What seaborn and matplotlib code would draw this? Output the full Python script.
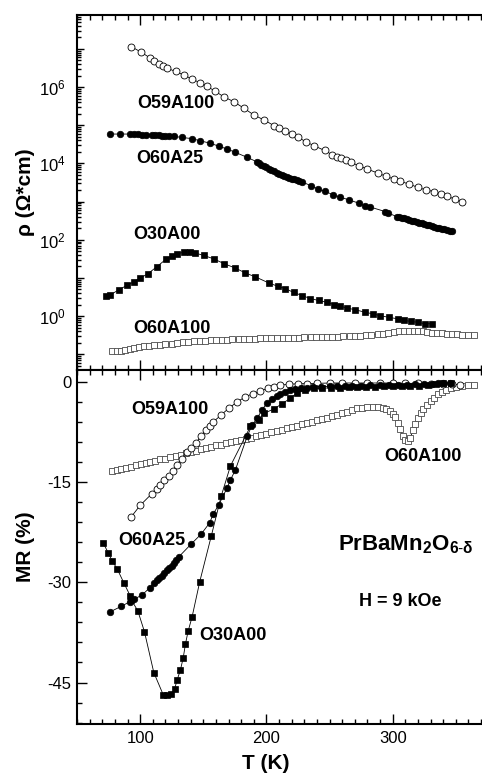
import numpy as np
import matplotlib
matplotlib.use("Agg")
import matplotlib.pyplot as plt
import matplotlib.ticker as mticker
import seaborn as sns

# ---- resistivity (top panel), values read as log10(rho) ----
t_o59_rho = [93, 101, 108, 111, 115, 118, 121, 128, 135, 141, 147, 153, 159, 166, 174,
             182, 190, 198, 206, 210, 215, 220, 225, 231, 238, 246, 252, 256, 259, 263,
             267, 273, 280, 288, 295, 301, 306, 313, 320, 326, 333, 338, 343, 349, 355]
lg_o59_rho = [7.06, 6.91, 6.76, 6.69, 6.60, 6.55, 6.50, 6.41, 6.31, 6.21, 6.12, 6.02, 5.90,
              5.75, 5.62, 5.45, 5.27, 5.14, 4.99, 4.92, 4.84, 4.76, 4.69, 4.57, 4.46, 4.34,
              4.23, 4.18, 4.14, 4.08, 4.03, 3.94, 3.85, 3.75, 3.66, 3.59, 3.53, 3.46, 3.37,
              3.31, 3.26, 3.20, 3.14, 3.07, 2.99]

t_o60a25_rho = [76.5, 84.4, 92.3, 95, 98, 101.6, 105, 109.5, 112, 115, 117.4, 120, 123, 126.6,
                133.2, 141.1, 147.7, 155.6, 162.3, 168.8, 175.4, 184.7, 192.6, 194, 196, 198,
                200, 202, 204, 206, 208, 210, 212, 214, 216, 218, 220, 222, 224, 226, 228,
                235, 241, 246, 253, 258, 265, 273, 278, 282, 294, 296.5, 303, 305, 307, 309,
                311, 313, 315, 317, 319, 321, 323, 325, 327, 329, 331, 333, 335, 337, 339,
                341, 343, 345, 347]
lg_o60a25_rho = [4.77, 4.77, 4.77, 4.76, 4.76, 4.75, 4.75, 4.75, 4.74, 4.74, 4.73, 4.73, 4.72,
                 4.71, 4.68, 4.65, 4.59, 4.53, 4.45, 4.38, 4.29, 4.16, 4.04, 4.01, 3.97, 3.93,
                 3.90, 3.86, 3.83, 3.80, 3.76, 3.73, 3.70, 3.68, 3.65, 3.63, 3.60, 3.58, 3.56,
                 3.54, 3.52, 3.42, 3.33, 3.27, 3.18, 3.12, 3.05, 2.96, 2.89, 2.86, 2.74, 2.70,
                 2.61, 2.59, 2.57, 2.56, 2.54, 2.52, 2.50, 2.48, 2.47, 2.45, 2.43, 2.41, 2.39,
                 2.38, 2.36, 2.34, 2.32, 2.30, 2.29, 2.27, 2.25, 2.23, 2.22]

t_o30_rho = [73.3, 76.5, 83.1, 89.7, 95, 100.2, 106.1, 113.4, 120.8, 125.3, 129.3, 134.6,
             139.8, 143.8, 150.4, 158.3, 166.7, 175.4, 183.3, 191.2, 201.8, 209.2, 215,
             221.6, 228.2, 234.8, 241.4, 248, 253.8, 258.6, 263.9, 270, 278.4, 284.4, 290.2,
             296.8, 303.9, 309.1, 314.4, 319.7, 325.7, 331]
lg_o30_rho = [0.54, 0.56, 0.69, 0.81, 0.90, 1.00, 1.11, 1.30, 1.50, 1.58, 1.64, 1.67, 1.68,
              1.65, 1.59, 1.50, 1.37, 1.26, 1.13, 1.03, 0.87, 0.78, 0.72, 0.62, 0.54, 0.46,
              0.41, 0.36, 0.30, 0.26, 0.21, 0.17, 0.10, 0.06, 0.01, -0.03, -0.07, -0.11,
              -0.14, -0.16, -0.20, -0.20]

t_o60a100_rho = [78, 82, 85, 88, 92, 95, 99, 103, 107, 111, 116, 120, 125, 129, 134, 138, 143,
                 147, 151, 156, 160, 165, 169, 173, 178, 182, 186, 191, 195, 200, 204, 208,
                 213, 217, 222, 226, 230, 235, 239, 244, 248, 252, 257, 261, 266, 270, 274,
                 279, 283, 288, 292, 296, 301, 305, 309, 313, 317, 320, 324, 327, 331, 335,
                 339, 343, 347, 351, 355, 360, 364]
lg_o60a100_rho = [-0.92, -0.91, -0.90, -0.88, -0.85, -0.83, -0.81, -0.79, -0.78, -0.76, -0.75,
                  -0.73, -0.72, -0.70, -0.69, -0.67, -0.66, -0.65, -0.64, -0.63, -0.63, -0.62,
                  -0.62, -0.61, -0.60, -0.60, -0.59, -0.59, -0.58, -0.58, -0.57, -0.57, -0.57,
                  -0.56, -0.56, -0.56, -0.55, -0.55, -0.55, -0.55, -0.55, -0.54, -0.54, -0.53,
                  -0.52, -0.52, -0.51, -0.50, -0.49, -0.47, -0.46, -0.44, -0.42, -0.40, -0.39,
                  -0.38, -0.38, -0.38, -0.40, -0.41, -0.43, -0.44, -0.45, -0.46, -0.47, -0.48,
                  -0.49, -0.50, -0.50]

# ---- magnetoresistance (bottom panel), % ----
t_o59_mr = [93, 100, 109, 113, 116, 119, 123, 126, 129, 133, 137, 140, 144, 148, 152, 155,
            158, 164, 170, 177, 183, 189, 195, 201, 206, 211, 218, 225, 232, 240, 250, 260,
            270, 280, 290, 300, 310, 320, 330, 340, 347, 353]
mr_o59 = [-20.2, -18.5, -16.8, -16.0, -15.4, -14.7, -14.1, -13.3, -12.4, -11.5, -10.5, -9.9,
          -9.2, -8.2, -7.2, -6.6, -6.0, -5.0, -4.0, -3.0, -2.3, -1.8, -1.4, -1.0, -0.8, -0.5,
          -0.4, -0.3, -0.3, -0.25, -0.2, -0.2, -0.2, -0.2, -0.2, -0.2, -0.25, -0.25, -0.3,
          -0.3, -0.35, -0.5]

t_o60a25_mr = [76.5, 85, 92, 95.5, 101.6, 107.7, 110.8, 113, 114.8, 117, 118.7, 121, 122.7,
               125, 126.6, 128.5, 130.6, 140.3, 148.3, 155.1, 157.8, 162.3, 168.8, 171.5,
               175.4, 184.7, 188.6, 192.6, 196.5, 200.5, 204.4, 208.4, 211, 215, 219, 223,
               227, 232, 237, 243, 250, 256, 262, 268, 275, 282, 290, 297, 304, 311, 318,
               325, 331, 336, 340, 345]
mr_o60a25 = [-34.4, -33.6, -32.9, -32.5, -31.9, -30.8, -30.1, -29.7, -29.4, -29.0, -28.6, -28.2,
             -27.9, -27.5, -27.1, -26.7, -26.2, -24.3, -22.8, -21.1, -19.8, -18.4, -15.9,
             -14.7, -13.2, -8.2, -6.5, -5.5, -4.2, -3.2, -2.6, -2.2, -1.8, -1.5, -1.3, -1.15,
             -1.0, -0.9, -0.8, -0.75, -0.7, -0.7, -0.65, -0.6, -0.6, -0.55, -0.5, -0.5, -0.45,
             -0.45, -0.4, -0.35, -0.3, -0.2, -0.15, -0.15]

t_o30_mr = [70.7, 74.7, 77.8, 81.8, 87.1, 92.3, 92.9, 98.2, 103.4, 110.8, 118.2, 121.4, 124.5,
            127.2, 129.3, 131.9, 134.1, 135.9, 138, 141.1, 147.2, 156.3, 164.2, 171.5, 187.3,
            193.9, 198.4, 205.8, 212.3, 218.9, 224.2, 230.7, 237.3, 244, 251, 258, 265, 272,
            279, 286, 293, 300, 307, 314, 321, 328, 334, 340, 346]
mr_o30 = [-24.1, -25.6, -26.8, -28.0, -30.1, -32.1, -32.6, -34.3, -37.4, -43.5, -46.8, -46.9,
          -46.7, -46.0, -44.6, -43.1, -41.3, -39.2, -37.3, -35.2, -29.9, -23.1, -17.1, -12.6,
          -6.7, -5.7, -4.7, -4.1, -3.3, -2.5, -1.7, -1.2, -1.0, -1.0, -0.9, -0.9, -0.85, -0.8,
          -0.8, -0.75, -0.7, -0.7, -0.7, -0.65, -0.6, -0.5, -0.4, -0.25, -0.2]

t_o60a100_mr = [78, 82, 85, 89, 93, 97, 101, 105, 108, 112, 116, 120, 124, 128, 132, 136, 140,
                144, 148, 152, 156, 160, 164, 168, 172, 176, 180, 184, 188, 192, 196, 200,
                204, 208, 212, 216, 220, 224, 228, 232, 236, 240, 244, 248, 252, 256, 260,
                264, 268, 272, 276, 280, 284, 288, 292, 295, 298, 300, 302, 304, 306, 308,
                310, 312, 314, 316, 318, 320, 322, 324, 327, 330, 333, 336, 339, 342, 346,
                350, 355, 360, 364]
mr_o60a100 = [-13.3, -13.2, -13.0, -12.9, -12.7, -12.5, -12.3, -12.2, -12.0, -11.8, -11.6,
              -11.5, -11.3, -11.1, -10.9, -10.7, -10.5, -10.3, -10.1, -9.9, -9.7, -9.5, -9.4,
              -9.2, -9.0, -8.8, -8.7, -8.5, -8.4, -8.2, -8.0, -7.8, -7.6, -7.4, -7.2, -7.0,
              -6.8, -6.6, -6.4, -6.2, -6.0, -5.8, -5.6, -5.4, -5.2, -5.0, -4.7, -4.5, -4.2,
              -4.0, -3.9, -3.8, -3.8, -3.8, -3.9, -4.1, -4.4, -4.8, -5.3, -6.2, -7.1, -8.2,
              -8.7, -8.8, -8.4, -7.2, -6.3, -5.4, -4.7, -4.1, -3.5, -2.9, -2.4, -1.9, -1.5,
              -1.3, -1.0, -0.8, -0.6, -0.5, -0.5]

sns.set_theme(style="ticks")
plt.rcParams["font.family"] = ["Liberation Sans", "DejaVu Sans"]
plt.rcParams["text.color"] = "black"
plt.rcParams["axes.labelcolor"] = "black"
plt.rcParams["mathtext.fontset"] = "custom"
plt.rcParams["mathtext.rm"] = "Liberation Sans"
plt.rcParams["mathtext.it"] = "Liberation Sans:italic"
plt.rcParams["mathtext.bf"] = "Liberation Sans:bold"
plt.rcParams["mathtext.sf"] = "Liberation Sans"

fig = plt.figure(figsize=(4.82, 7.74), dpi=100)
ax1 = fig.add_axes([0.1598, 0.5220, 0.8402, 0.4587])
ax2 = fig.add_axes([0.1598, 0.0646, 0.8402, 0.4574])

open_c = dict(marker="o", markersize=5, markerfacecolor="white", markeredgecolor="black",
              markeredgewidth=0.6)
fill_c = dict(marker="o", markersize=4.7, markerfacecolor="black", markeredgecolor="black",
              markeredgewidth=0.5)
fill_s = dict(marker="s", markersize=4.5, markerfacecolor="black", markeredgecolor="black",
              markeredgewidth=0.5)
open_s = dict(marker="s", markersize=4.6, markerfacecolor="white", markeredgecolor="#4a4a4a",
              markeredgewidth=0.6)

series_top = [
    (t_o59_rho, lg_o59_rho, open_c),
    (t_o60a25_rho, lg_o60a25_rho, fill_c),
    (t_o30_rho, lg_o30_rho, fill_s),
    (t_o60a100_rho, lg_o60a100_rho, open_s),
]
for t, lg, st in series_top:
    sns.lineplot(x=t, y=10 ** np.array(lg), ax=ax1, color="black", linewidth=0.6,
                 estimator=None, sort=False, **st)

series_bot = [
    (t_o60a100_mr, mr_o60a100, open_s),
    (t_o59_mr, mr_o59, open_c),
    (t_o30_mr, mr_o30, fill_s),
    (t_o60a25_mr, mr_o60a25, fill_c),
]
for t, mr, st in series_bot:
    sns.lineplot(x=t, y=mr, ax=ax2, color="black", linewidth=0.6,
                 estimator=None, sort=False, **st)

# axes setup
ax1.set_yscale("log")
ax1.set_ylim(10 ** -1.41, 10 ** 7.89)
ax2.set_ylim(-51.2, 1.75)
for ax in (ax1, ax2):
    ax.set_xlim(50, 370.7)
    ax.xaxis.set_major_locator(mticker.MultipleLocator(100))
    ax.xaxis.set_minor_locator(mticker.MultipleLocator(10))
    ax.tick_params(which="both", direction="in", top=True, right=False, width=1,
                   colors="black", labelsize=12)
    ax.tick_params(which="major", length=7)
    ax.tick_params(which="minor", length=3.5)
    ax.spines["right"].set_visible(False)
    for s in ("left", "top", "bottom"):
        ax.spines[s].set_linewidth(1.5)
        ax.spines[s].set_color("black")

ax1.yaxis.set_major_locator(mticker.LogLocator(base=10, numticks=20))
ax1.yaxis.set_minor_locator(mticker.LogLocator(base=10, subs=np.arange(2, 10), numticks=20))
ax1.yaxis.set_minor_formatter(mticker.NullFormatter())
ax1.yaxis.set_major_formatter(mticker.FuncFormatter(
    lambda v, p: r"$10^{%d}$" % round(np.log10(v)) if round(np.log10(v)) % 2 == 0 else ""))
ax1.tick_params(axis="y", which="major", length=5, pad=8)
ax1.tick_params(axis="y", which="minor", length=3)
ax1.tick_params(axis="x", labelbottom=False)

ax2.yaxis.set_major_locator(mticker.MultipleLocator(15))
ax2.yaxis.set_minor_locator(mticker.MultipleLocator(3))
ax2.yaxis.set_major_formatter(mticker.FuncFormatter(lambda v, p: "%d" % v))
ax2.tick_params(axis="y", pad=4)
ax2.tick_params(axis="x", pad=5)

ax1.set_xlabel("")
ax1.set_ylabel("ρ (Ω*cm)", fontsize=15, fontweight="bold")
ax2.set_ylabel("MR (%)", fontsize=15, fontweight="bold")
ax2.set_xlabel("T (K)", fontsize=15, fontweight="bold")
ax1.yaxis.set_label_coords(-0.105, 0.5)
ax2.yaxis.set_label_coords(-0.105, 0.5)
ax2.xaxis.set_label_coords(0.467, -0.085)

# curve labels
lab = dict(fontsize=13, fontweight="bold", ha="left", va="center", color="black")
ax1.text(97.6, 10 ** 5.58, "O59A100", **lab)
ax1.text(96.8, 10 ** 4.14, "O60A25", **lab)
ax1.text(94.5, 10 ** 2.13, "O30A00", **lab)
ax1.text(94.5, 10 ** -0.335, "O60A100", **lab)

ax2.text(92.9, -4.2, "O59A100", **lab)
ax2.text(293, -11.2, "O60A100", **lab)
ax2.text(82.6, -23.7, "O60A25", **lab)
ax2.text(146.7, -37.9, "O30A00", **lab)
ax2.text(257, -24.4, r"$\mathbf{PrBaMn_2O_{6\text{-}\delta}}$", fontsize=16, ha="left",
         va="center", color="black")
ax2.text(273.3, -32.9, "H = 9 kOe", **lab)

fig.savefig("out.png", dpi=100)
